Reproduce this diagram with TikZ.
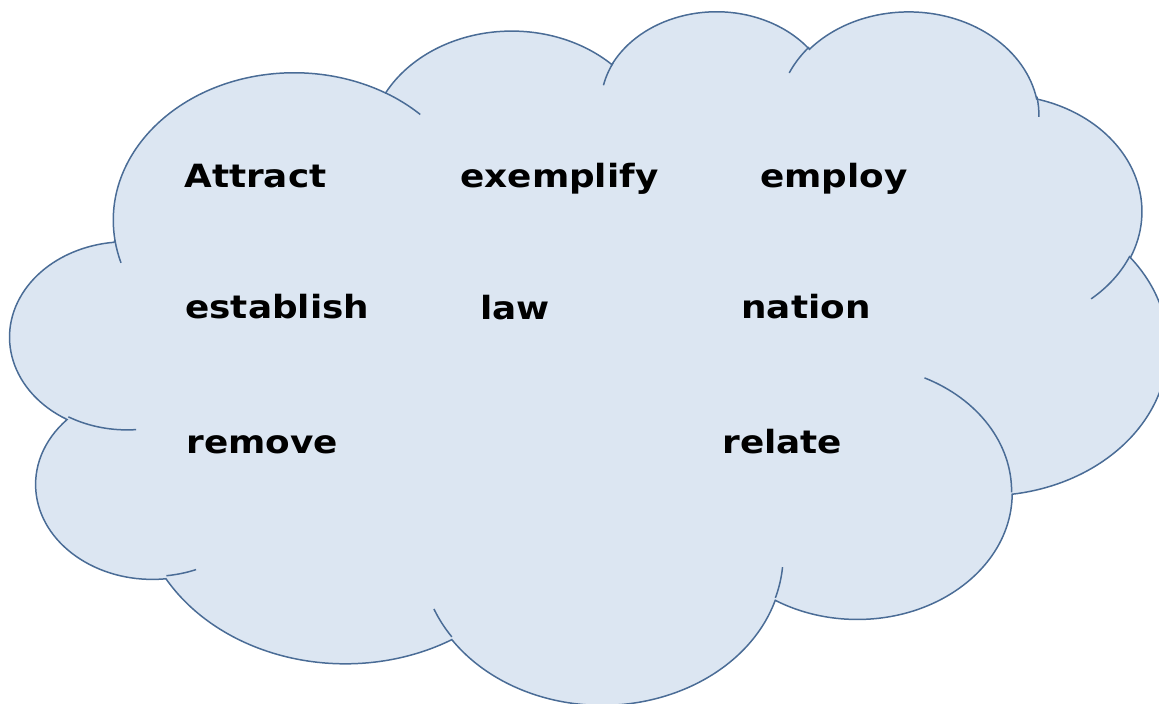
\documentclass[tikz,border=0pt]{standalone}
\usepackage{fontspec}
\setmainfont{DejaVu Sans}[FakeStretch=1.12]
\definecolor{cloudblue}{HTML}{DCE6F2}
\definecolor{cloudedge}{HTML}{4A6C96}
\tikzset{
  cloudshape/.style={fill=cloudblue,draw=cloudedge,line width=0.85pt},
  cloudline/.style={draw=cloudedge,line width=0.85pt},
  word/.style={anchor=base west,inner sep=0pt,font=\bfseries\fontsize{18.2}{22}\selectfont},
  declare function={pa(\a,\k)=\a+atan((\k-1)*sin(\a)*cos(\a)/(cos(\a)^2+\k*sin(\a)^2));}
}
% one bump of the cloud: radii, start angle, sweep
\newcommand\lobe[4]{arc[start angle={pa(#3,#1/#2)},end angle={pa(#3+#4,#1/#2)},x radius=#1,y radius=#2]}

\begin{document}
\begin{tikzpicture}[x=0.02cm,y=-0.02cm]
  \useasboundingbox (0,0) rectangle (1159,703);
  \clip (0,0) rectangle (1159,703);

  \begin{scope}[xshift=0.21cm,yshift=-0.19cm,x=0.053566cm,y=-0.032106cm]
    % outline
    \filldraw[cloudshape] (39,143.70)
      \lobe{67.53}{91.90}{-190.4875}{123.7805}
      \lobe{53.33}{72.67}{-144.1024}{89.9452}
      \lobe{43.65}{59.45}{-145.8079}{99.7230}
      \lobe{48.57}{65.95}{-130.9861}{117.2417}
      \lobe{53.33}{72.73}{-78.7089}{109.0269}
      \lobe{67.75}{92.20}{-46.2673}{130.2690}
      \lobe{57.85}{78.67}{0.6250}{114.0333}
      \lobe{67.52}{92.15}{22.4516}{115.1726}
      \lobe{77.20}{105.43}{66.2426}{75.7110}
      \lobe{43.60}{59.18}{-274.9421}{146.7356}
      \lobe{43.45}{59.45}{-246.8285}{152.5189}
      -- cycle;
    % inner arcs
    \draw[cloudline] (46.93,261.77) \lobe{43.45}{59.45}{86.7420}{26.4295};
    \draw[cloudline] (69.28,348.99) \lobe{43.60}{59.18}{73.6105}{11.4475};
    \draw[cloudline] (164.78,390.90) \lobe{67.52}{92.15}{137.6242}{14.0811};
    \draw[cloudline] (288.27,347.51) \lobe{67.52}{92.15}{6.4533}{15.9984};
    \draw[cloudline] (341.29,229.54) \lobe{57.85}{78.67}{-70.2924}{70.9174};
    \draw[cloudline] (417.98,153.54) \lobe{53.33}{72.73}{30.3180}{27.7515};
    \draw[cloudline] (383.24,54.26) \lobe{48.57}{65.95}{-13.7443}{14.8589};
    \draw[cloudline] (290.78,39.52) \lobe{48.57}{65.95}{-149.1815}{18.1954};
    \draw[cloudline] (221.41,47.20) \lobe{43.65}{59.45}{-163.4943}{17.6864};
    \draw[cloudline] (140.00,51.92) \lobe{67.53}{91.90}{-66.7070}{12.3194};
    \draw[cloudline] (41.27,157.89) \lobe{67.53}{91.90}{157.6544}{11.8582};
  \end{scope}

  % words
  \node[word] (attract) at (184,187) {Attract};
  \node[word] (exemplify) at (460,187) {exemplify};
  \node[word] (employ) at (760,187) {employ};
  \node[word] (establish) at (185,318) {establish};
  \node[word] (law) at (480,319) {law};
  \node[word] (nation) at (741,318) {nation};
  \node[word] (remove) at (186,453) {remove};
  \node[word] (relate) at (722,453) {relate};
\end{tikzpicture}
\end{document}
